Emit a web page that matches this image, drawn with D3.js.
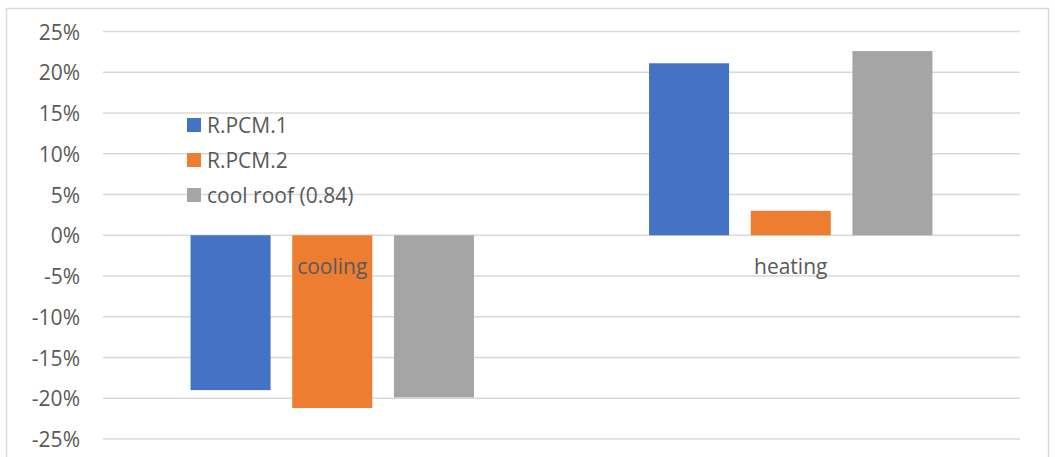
<!DOCTYPE html>
<html>
<head>
<meta charset="utf-8">
<script src="https://cdn.jsdelivr.net/npm/d3@7"></script>
<style>
  body { margin: 0; background: #fff; }
  svg text { font-family: "Open Sans", sans-serif; fill: #595959; }
</style>
</head>
<body>
<div id="chart"></div>
<script>
// chart data
var categories = ["cooling", "heating"];
var seriesNames = ["R.PCM.1", "R.PCM.2", "cool roof (0.84)"];
var pcm1 = [-0.19, 0.211];
var pcm2 = [-0.212, 0.03];
var coolRoof = [-0.199, 0.226];
var tickValues = [0.25, 0.2, 0.15, 0.1, 0.05, 0, -0.05, -0.1, -0.15, -0.2, -0.25];
var colors = ["#4472C4", "#ED7D31", "#A5A5A5"];

var fullWidth = 1055, fullHeight = 457;
var margin = {top: 31.5, right: 35, bottom: 18, left: 103};
var width = fullWidth - margin.left - margin.right;
var height = fullHeight - margin.top - margin.bottom;
var groupWidth = 283.4;

var svg = d3.select("#chart").append("svg")
  .attr("width", fullWidth)
  .attr("height", fullHeight);

// outer chart border
svg.append("rect")
  .attr("x", 6.5).attr("y", 8.5)
  .attr("width", 1042).attr("height", 470)
  .attr("fill", "none")
  .attr("stroke", "#d9d9d9")
  .attr("stroke-width", 1.5);

var g = svg.append("g")
  .attr("transform", "translate(" + margin.left + "," + margin.top + ")");

var x0 = d3.scaleBand().domain(categories).range([0, width]);
var x1 = d3.scaleBand().domain(d3.range(3)).range([0, groupWidth]).paddingInner(0.213);
var y = d3.scaleLinear().domain([-0.25, 0.25]).range([height, 0]);

// gridlines
g.append("g")
  .selectAll("line")
  .data(tickValues)
  .join("line")
  .attr("x1", 0).attr("x2", width)
  .attr("y1", function(d) { return y(d); })
  .attr("y2", function(d) { return y(d); })
  .attr("stroke", "#d9d9d9")
  .attr("stroke-width", 1.5);

// y axis labels (plain hyphen like the original)
var pct = d3.format(".0%");
var yAxis = d3.axisLeft(y)
  .tickValues(tickValues)
  .tickFormat(function(d) { return pct(d).replace("\u2212", "-"); })
  .tickSize(0)
  .tickPadding(23);
var ya = g.append("g").call(yAxis);
ya.select(".domain").remove();
ya.selectAll("text")
  .style("font-size", "21px")
  .attr("dy", "0.36em")
  .attr("fill", "#595959");

// bars
var series = [pcm1, pcm2, coolRoof];
var groupOffset = (x0.bandwidth() - groupWidth) / 2;
series.forEach(function(vals, si) {
  g.append("g")
    .selectAll("rect")
    .data(vals)
    .join("rect")
    .attr("x", function(d, i) { return x0(categories[i]) + groupOffset + x1(si); })
    .attr("width", x1.bandwidth())
    .attr("y", function(d) { return y(Math.max(0, d)); })
    .attr("height", function(d) { return Math.abs(y(d) - y(0)); })
    .attr("fill", colors[si]);
});

// category labels near the zero line
g.append("g")
  .selectAll("text")
  .data(categories)
  .join("text")
  .attr("x", function(d) { return x0(d) + x0.bandwidth() / 2; })
  .attr("y", y(0) + 39)
  .attr("text-anchor", "middle")
  .style("font-size", "21px")
  .text(function(d) { return d; });

// legend
var legend = svg.append("g")
  .attr("transform", "translate(187,125)");
var item = legend.selectAll("g")
  .data(seriesNames)
  .join("g")
  .attr("transform", function(d, i) { return "translate(0," + (i * 35) + ")"; });
item.append("rect")
  .attr("x", 0).attr("y", -7)
  .attr("width", 14).attr("height", 14)
  .attr("fill", function(d, i) { return colors[i]; });
item.append("text")
  .attr("x", 20).attr("y", 7.5)
  .style("font-size", "21px")
  .text(function(d) { return d; });
</script>
</body>
</html>
